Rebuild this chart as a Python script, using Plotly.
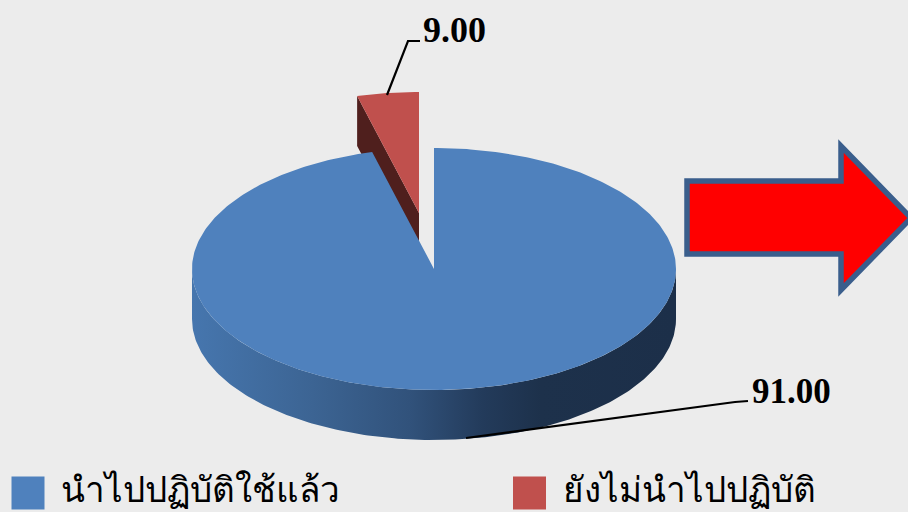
import numpy as np
import plotly.graph_objects as go

# Data
categories = ["นำไปปฏิบัติใช้แล้ว", "ยังไม่นำไปปฏิบัติ"]
values = [91.00, 9.00]
colors = ["#4F81BD", "#C0504D"]

# Drawing settings for the tilted pie
BG = "#ECECEC"
CX, CY, RX, RY, DEPTH = 434, 269, 242, 121, 50
EXPLODE = (-15, -56)
FORESHORTEN = 0.457  # the tilted view narrows the slice at the back of the pie


def ellipse(a_deg, dx=0, dy=0):
    a = np.radians(a_deg)
    return CX + RX * np.sin(a) + dx, CY - RY * np.cos(a) + dy


sweep = values[1] / sum(values) * 360 * FORESHORTEN
red_a = np.linspace(-sweep, 0, 30)
blue_a = np.linspace(0, 360 - sweep, 400)

fig = go.Figure()


def poly(x, y, color=None, **kw):
    fig.add_trace(go.Scatter(
        x=list(x), y=list(y), mode="lines", fill="toself",
        fillcolor=color, line=dict(width=0), hoverinfo="skip",
        showlegend=False, **kw))


# Dark side of the exploded slice (blue pie drawn over it)
rx0, ry0 = ellipse(red_a, *EXPLODE)
ax, ay = CX + EXPLODE[0], CY + EXPLODE[1]
poly([rx0[0], rx0[0], ax, ax], [ry0[0], ry0[0] + DEPTH, ay + DEPTH, ay], "#4F1F1D")

# Side wall of the pie
front = np.linspace(90, 270, 200)
fx, fy = ellipse(front)
bx, by = ellipse(front[::-1], 0, DEPTH)
fig.add_trace(go.Scatter(
    x=list(fx) + list(bx), y=list(fy) + list(by), mode="lines", fill="toself",
    line=dict(width=0), hoverinfo="skip", showlegend=False,
    fillgradient=dict(type="horizontal", colorscale=[
        [0.0, "#4676AE"], [0.25, "#3C6493"], [0.45, "#31527B"],
        [0.60, "#233B5B"], [0.72, "#1D314B"], [1.0, "#1C2F49"]]),
))

# Top face of the large slice
bxs, bys = ellipse(blue_a)
poly([CX] + list(bxs) + [CX], [CY] + list(bys) + [CY], colors[0])

# Top face of the exploded slice
poly([ax] + list(rx0) + [ax], [ay] + list(ry0) + [ay], colors[1])

# Legend swatches
fig.add_trace(go.Scatter(
    x=[28, 529.5], y=[493, 493], mode="markers", hoverinfo="skip", showlegend=False,
    marker=dict(symbol="square", size=33, color=colors, line=dict(width=0)),
))

LINE = dict(color="black", width=2.2)
shapes = [
    dict(type="path", path="M387,95 L408,41 L420,41", line=LINE),
    dict(type="path", path="M466,438 L735,402 L748,401", line=LINE),
    dict(type="path",
         path="M687,181 L841,181 L841,146 L911,218 L841,290 L841,254 L687,254 Z",
         fillcolor="#FF0000", line=dict(color="#3A5E8C", width=5.5)),
]

SERIF = "Liberation Serif"
annotations = [
    dict(x=421, y=30, text=f"<b>{values[1]:.2f}</b>", xanchor="left", yanchor="middle",
         showarrow=False, font=dict(family=SERIF, size=36, color="black")),
    dict(x=750, y=391, text=f"<b>{values[0]:.2f}</b>", xanchor="left", yanchor="middle",
         showarrow=False, font=dict(family=SERIF, size=35, color="black")),
    dict(x=59, y=490, text=categories[0], xanchor="left", yanchor="middle",
         showarrow=False, font=dict(family=f"{SERIF}, serif", size=35, color="black")),
    dict(x=561, y=490, text=categories[1], xanchor="left", yanchor="middle",
         showarrow=False, font=dict(family=f"{SERIF}, serif", size=35, color="black")),
]

fig.update_layout(
    width=908, height=512, autosize=False,
    margin=dict(l=0, r=0, t=0, b=0),
    paper_bgcolor=BG, plot_bgcolor=BG,
    xaxis=dict(range=[0, 908], visible=False, fixedrange=True),
    yaxis=dict(range=[512, 0], visible=False, fixedrange=True),
    shapes=shapes, annotations=annotations, showlegend=False,
)
fig.write_html(
    "out.html",
    config=dict(displayModeBar=False),
    post_script="document.body.style.margin='0';document.body.style.overflow='hidden';"
                f"document.body.style.background='{BG}';",
)
